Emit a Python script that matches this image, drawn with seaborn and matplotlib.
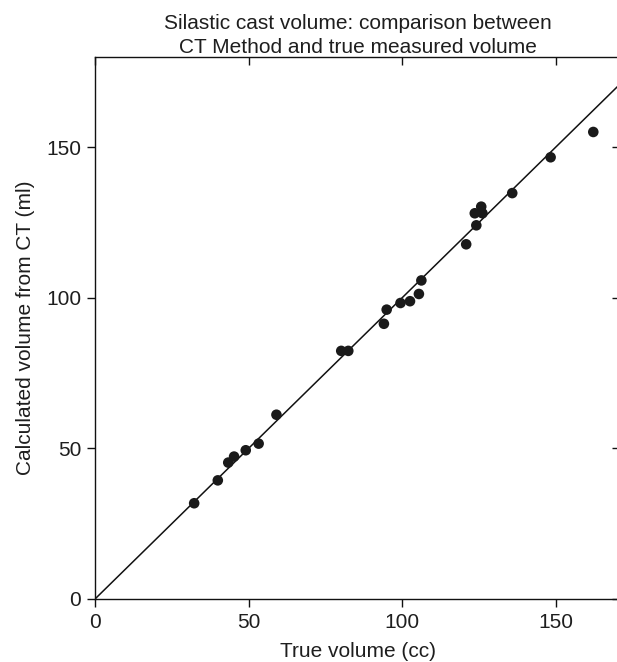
import matplotlib
matplotlib.use("Agg")
import matplotlib.pyplot as plt
import seaborn as sns
import pandas as pd

# True (measured) cast volume vs. volume calculated from CT
true_volume = [32.3, 40.0, 43.4, 45.3, 49.1, 53.3, 59.1, 80.2, 82.5,
               94.1, 95.0, 99.5, 102.6, 105.5, 106.3, 120.9, 124.2,
               123.7, 125.8, 126.2, 135.9, 148.4, 162.3]
ct_volume = [31.8, 39.4, 45.3, 47.3, 49.4, 51.6, 61.2, 82.4, 82.4,
             91.4, 96.1, 98.3, 98.9, 101.3, 105.8, 117.8, 124.1,
             128.1, 130.3, 128.1, 134.8, 146.7, 155.1]

# Line of identity
identity_x = [0, 200]
identity_y = [0, 200]

x_ticks = [0, 50, 100, 150]
y_ticks = [0, 50, 100, 150]

df = pd.DataFrame({"true": true_volume, "ct": ct_volume})
ref = pd.DataFrame({"x": identity_x, "y": identity_y})

sns.set_style("white")
plt.rcParams["font.family"] = ["Liberation Sans", "DejaVu Sans"]

W, H = 617, 662
fig = plt.figure(figsize=(W / 100, H / 100), dpi=100)
left, right, top, bottom = 95, 620, 57, 599
ax = fig.add_axes([left / W, (H - bottom) / H, (right - left) / W, (bottom - top) / H])

sns.lineplot(data=ref, x="x", y="y", ax=ax, color="#111111", linewidth=1.1)
sns.scatterplot(data=df, x="true", y="ct", ax=ax, color="#1a1a1a",
                s=58, edgecolor="none", zorder=3)

ax.set_xlim(0, 171)
ax.set_ylim(0, 180)
ax.set_xticks(x_ticks)
ax.set_yticks(y_ticks)

for side in ["left", "bottom", "top", "right"]:
    ax.spines[side].set_visible(True)
    ax.spines[side].set_color("#111111")
    ax.spines[side].set_linewidth(1.0)

FS = 15
TXT = "#1e1e1e"
ax.tick_params(axis="both", which="both", direction="out", length=6,
               width=1.0, color="#111111", labelsize=FS, labelcolor=TXT,
               bottom=True, left=True, top=True, right=True,
               labeltop=False, labelright=False)
ax.tick_params(axis="x", pad=4)
ax.tick_params(axis="y", pad=4)
# top/right ticks point inward
for t in ax.xaxis.get_major_ticks():
    t.tick2line.set_marker(3)  # TICKDOWN
    t.tick2line.set_markersize(6)
for t in ax.yaxis.get_major_ticks():
    t.tick2line.set_marker(0)  # TICKLEFT
    t.tick2line.set_markersize(6)

ax.set_xlabel("True volume (cc)", fontsize=FS, color=TXT, labelpad=7)
ax.set_ylabel("Calculated volume from CT (ml)", fontsize=FS, color=TXT, labelpad=8)
ax.set_title("Silastic cast volume: comparison between\nCT Method and true measured volume",
             fontsize=FS, color=TXT, pad=3, linespacing=1.3)

fig.savefig("out.png", dpi=100)
